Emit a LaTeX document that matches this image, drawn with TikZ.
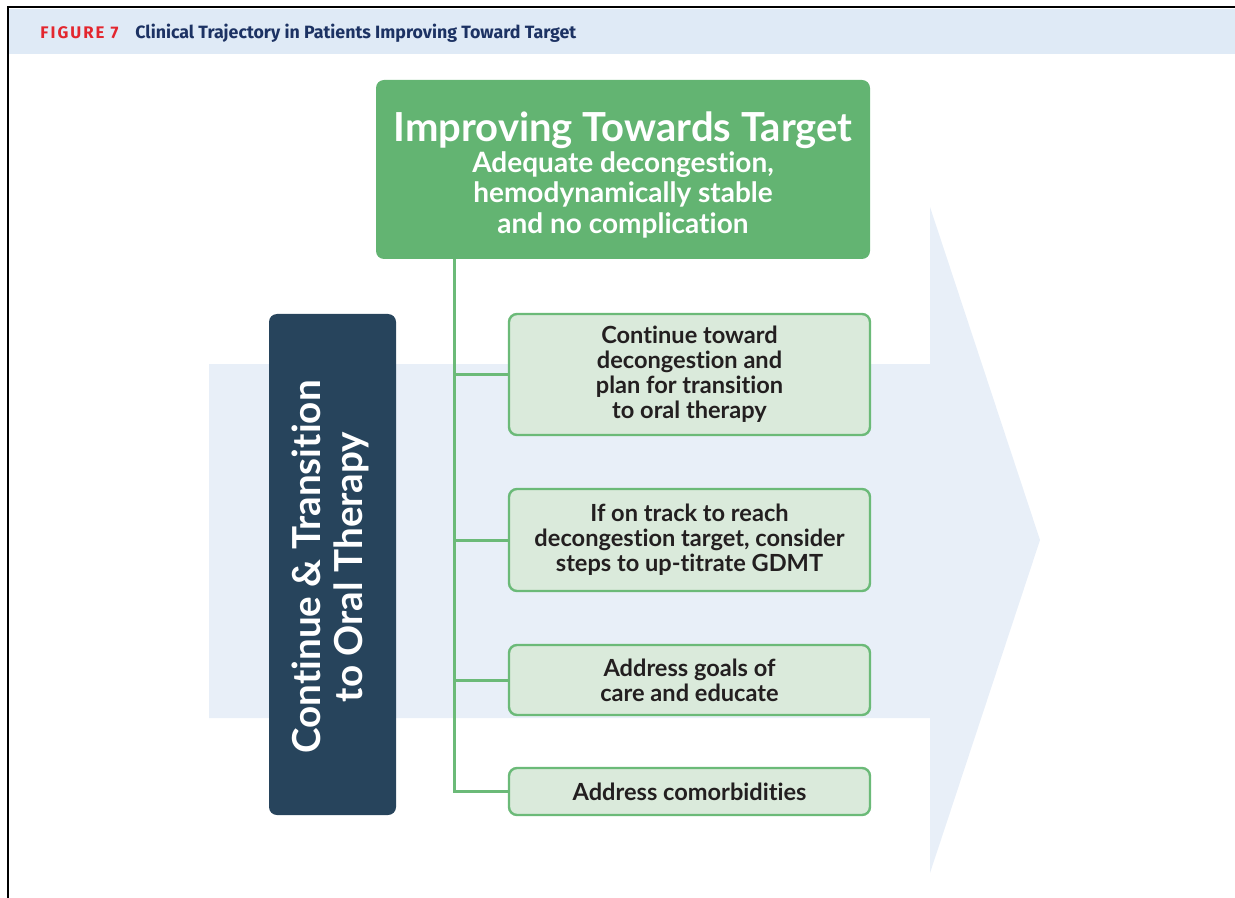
\documentclass[tikz,border=0pt]{standalone}
\usepackage{fontspec}
\setmainfont{Lato}[Ligatures=NoCommon]
\newfontfamily\headfont{Fira Sans}
\usepackage{tikz}

\definecolor{hdrblue}{HTML}{DFEAF6}
\definecolor{arrowblue}{HTML}{E8EFF8}
\definecolor{figred}{HTML}{E3262E}
\definecolor{titlenavy}{HTML}{1C3263}
\definecolor{topgreen}{HTML}{63B472}
\definecolor{subfill}{HTML}{DAEADB}
\definecolor{subline}{HTML}{6BBA78}
\definecolor{darknavy}{HTML}{27445C}
\definecolor{inktext}{HTML}{231F20}

\begin{document}
\begin{tikzpicture}[x=0.5pt,y=-0.5pt]
\tikzstyle{every node}+=[inner sep=0pt]
\tikzstyle{topbox}=[fill=topgreen, rounded corners=4pt]
\tikzstyle{subbox}=[draw=subline, line width=1.2pt, fill=subfill, rounded corners=4pt,
  minimum width=180.5pt, text=inktext, align=center, font=\bfseries\fontsize{11.8}{12.5}\selectfont]
\tikzstyle{sidebox}=[fill=darknavy, rounded corners=4pt, minimum width=63.5pt, minimum height=250.5pt]
\tikzstyle{link}=[draw=subline, line width=1.5pt]
\useasboundingbox (0,0) rectangle (1235,898);
% header band
\fill [hdrblue] (9,9) rectangle (1235,54);
\draw [black, line width=0.8pt] (8,898) -- (8,7) -- (1235,7);
\node [anchor=base west, text=figred, font=\headfont\bfseries\fontsize{8.4}{9}\selectfont\addfontfeatures{LetterSpace=12}] (fig) at (40,39) {FIGURE 7};
\node [anchor=base west, text=titlenavy, font=\headfont\bfseries\fontsize{8.9}{10}\selectfont] (cap) at (135,39) {Clinical Trajectory in Patients Improving Toward Target};
% big arrow behind
\fill [arrowblue] (209,364) -- (930,364) -- (930,207) -- (1040,540) -- (930,873) -- (930,718) -- (209,718) -- cycle;
% top box
\node [topbox, minimum width=247pt, minimum height=89.5pt] (top) at (623,169.5) {};
\node [text=white, align=center, font=\bfseries\fontsize{14}{15.3}\selectfont] (toptxt) at (623,175) {{\fontsize{20}{21}\selectfont Improving Towards Target}\\
  Adequate decongestion,\\ hemodynamically stable\\ and no complication};
% side box
\node [sidebox] (side) at (332.5,564.5) {};
\node [rotate=90, text=white, align=center, font=\bfseries\fontsize{19.3}{21}\selectfont] (sidetxt) at (330,567) {Continue \& Transition\\ to Oral Therapy};
% action boxes
\node [subbox, minimum height=60.5pt] (s1) at (689.5,374.5) {Continue toward\\ decongestion and\\ plan for transition\\ to oral therapy};
\node [subbox, minimum height=51pt] (s2) at (689.5,540) {If on track to reach\\ decongestion target, consider\\ steps to up-titrate GDMT};
\node [subbox, minimum height=35pt] (s3) at (689.5,680) {Address goals of\\ care and educate};
\node [subbox, minimum height=23.5pt] (s4) at (689.5,791.5) {Address comorbidities};
% connectors
\coordinate (stem) at (454,259);
\draw [link] (stem) |- (s4.west);
\foreach \s in {s1,s2,s3}
  \draw [link] (stem |- \s.west) -- (\s.west);
\end{tikzpicture}
\end{document}
